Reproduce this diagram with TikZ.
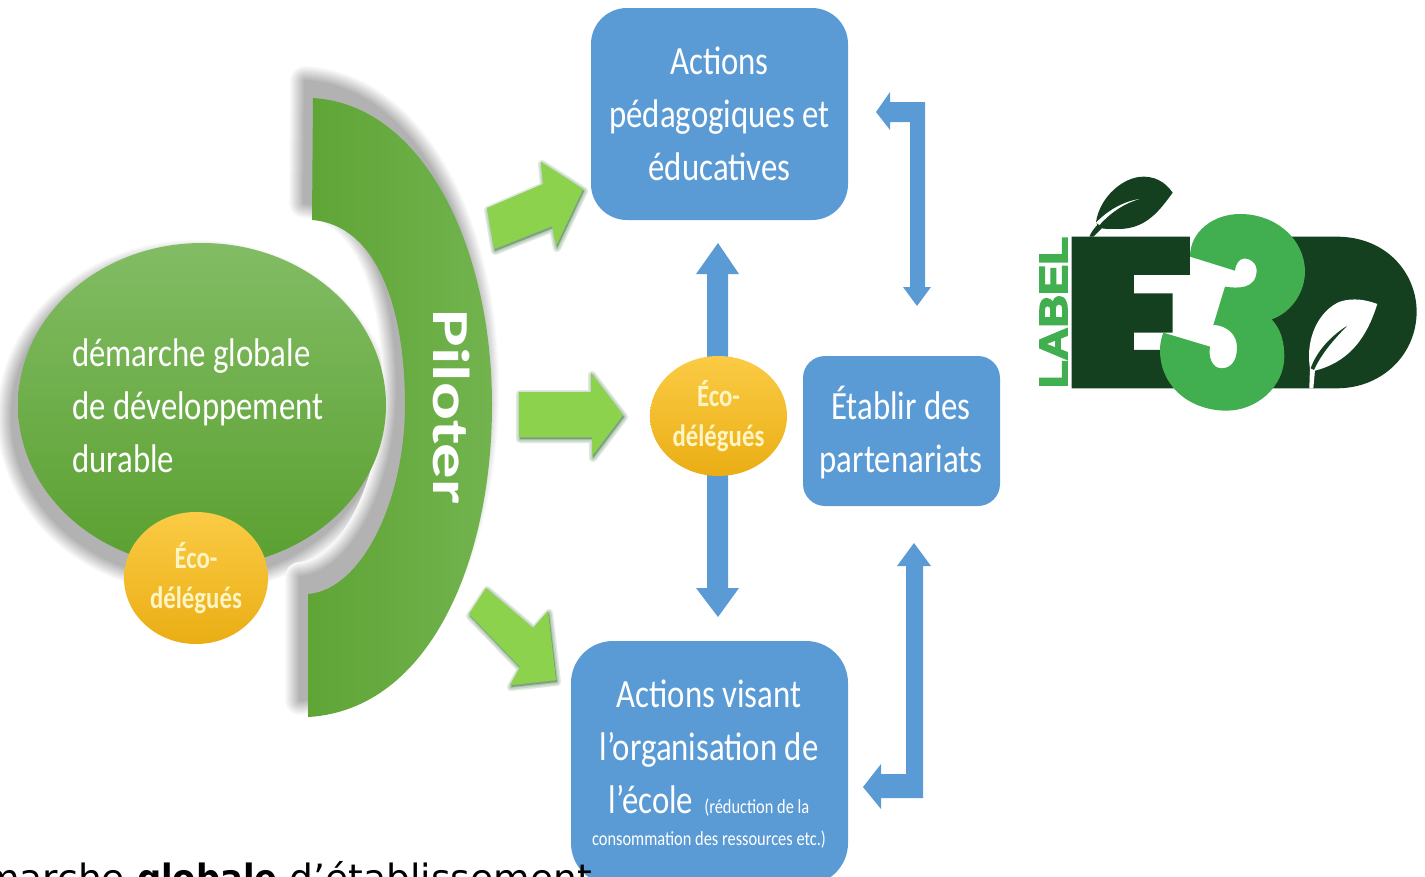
\documentclass[tikz,border=0pt]{standalone}
\usepackage{fontspec}
\usetikzlibrary{shapes.geometric}
\setmainfont{Carlito}
\newfontfamily\cond[FakeStretch=0.8]{Carlito}
\newfontfamily\condb[FakeStretch=0.82]{Carlito}
\newfontfamily\wide[FakeStretch=1.36]{Carlito}
\newfontfamily\dejavu[BoldFeatures={FakeStretch=0.9}]{DejaVu Sans}
\newfontfamily\labelfont[BoldFeatures={FakeBold=4}]{Liberation Sans}
\definecolor{boxblue}{HTML}{5B9BD5}
\definecolor{arrowgreen}{HTML}{8CD24C}
\definecolor{logodark}{HTML}{14401F}
\definecolor{logogreen}{HTML}{41AE4F}
\definecolor{cresL}{HTML}{5FA536}
\definecolor{cresR}{HTML}{72B34E}
\definecolor{ellT}{HTML}{82BC64}
\definecolor{ellM}{HTML}{69AA46}
\definecolor{ellB}{HTML}{5AA030}
\definecolor{eco1}{HTML}{FBCB45}
\definecolor{eco2}{HTML}{FFC000}
\definecolor{eco3}{HTML}{EAAE14}
\definecolor{ecotext}{HTML}{FFF4C4}
\tikzset{
  bluebox/.style={fill=boxblue,draw=none,inner sep=0pt,outer sep=0pt},
  bluearrow/.style={fill=boxblue,draw=none},
  greenarrow/.style={fill=arrowgreen,draw=none},
  ecoball/.style={ellipse,inner sep=0pt,top color=eco1,middle color=eco2,bottom color=eco3,draw=none,text=ecotext,align=center,
     font=\cond\bfseries\fontsize{31}{40}\selectfont},
  boxtext/.style={text=white,align=center,inner sep=0pt,font=\condb\fontsize{40}{53}\selectfont},
  crescentpath/.style={insert path={(313,98) .. controls (425,105) and (492,250) .. (492,405)
     .. controls (492,560) and (430,710) .. (308,717) -- (308,594)
     .. controls (362,590) and (405,500) .. (405,405)
     .. controls (405,310) and (378,225) .. (312,220) -- cycle}},
  arrowone/.style={insert path={(487,208) -- (543,184) -- (541,162) -- (583,189) -- (556,246) -- (552,226) -- (494,249) -- cycle}},
  arrowtwo/.style={insert path={(519,392) -- (591,392) -- (591,373) -- (623,415) -- (592,456) -- (592,437) -- (519,437) -- cycle}},
  arrowthree/.style={insert path={(486,588) -- (533,628) -- (548,611) -- (556,680) -- (510,685) -- (520,667) -- (469,614) -- cycle}},
}
\begin{document}
\begin{tikzpicture}[x=1pt,y=-1pt]
\useasboundingbox (0,0) rectangle (1425,876);
\clip (0,0) rectangle (1425,876);
% soft shadow of the ellipse, then of the crescent (opaque greys, lightest first)
\begin{scope}[shift={(-6,12)}]
\foreach \w/\g in {30/98,28/96,26/94,24/92,22/90,20/88,18/86,16/84,14/82,12/80,10/78,8/76,6/74,4/72,2/70}
  \path[fill=black!\the\numexpr100-\g\relax!white,draw=black!\the\numexpr100-\g\relax!white,line width=\w pt] (202,405) ellipse [x radius=184pt,y radius=162pt];
\end{scope}
\begin{scope}[shift={(-8,-17)}]
\foreach \w/\g in {30/98,28/96,26/94,24/92,22/90,20/88,18/86,16/84,14/82,12/80,10/78,8/76,6/74,4/72,2/70}
  \path[crescentpath,fill=black!\the\numexpr100-\g\relax!white,draw=black!\the\numexpr100-\g\relax!white,line width=\w pt,line join=round];
\end{scope}
% crescent and main ellipse
\path[crescentpath,left color=cresL,right color=cresR];
\node[ellipse,minimum width=368pt,minimum height=324pt,inner sep=0pt,draw=none,
      top color=ellT,middle color=ellM,bottom color=ellB] (demarche) at (202,405) {};
\node[text=white,align=left,anchor=west,inner sep=0pt,font=\condb\fontsize{40}{53}\selectfont] (demarchetxt) at (72,406)
  {démarche globale\\de développement\\durable};
\node[rotate=-90,text=white,inner sep=0pt,font=\wide\bfseries\fontsize{52}{54}\selectfont] (piloter) at (452,407) {Piloter};
\node[ecoball,minimum width=144pt,minimum height=132pt] (eco1node) at (196,578) {Éco-\\délégués};
% green arrows
\foreach \st in {arrowone,arrowtwo,arrowthree}{
  \begin{scope}[shift={(1,2)}]
  \foreach \w in {8,5,2}
    \path[\st,fill=black!70!green,draw=black!70!green,line width=\w pt,line join=round,opacity=.12];
  \end{scope}
  \path[\st,greenarrow];
}
% blue boxes
\node[bluebox,rounded corners=36pt,minimum width=257pt,minimum height=212pt] (b1) at (719.5,114) {};
\node[bluebox,rounded corners=22pt,minimum width=197pt,minimum height=150pt] (b2) at (901.5,431) {};
\node[bluebox,rounded corners=42pt,minimum width=277pt,minimum height=244pt] (b3) at (709.5,763) {};
% blue arrows
\path[bluearrow] (707,360) -- (707,274) -- (696,274) -- (718,243) -- (739,274) -- (728,274) -- (728,360) -- cycle;
\path[bluearrow] (707,470) -- (707,588) -- (696,588) -- (718,617) -- (739,588) -- (728,588) -- (728,470) -- cycle;
\path[bluearrow] (876,112) -- (890,92) -- (890,102) -- (925,102) -- (925,287) -- (931,287) -- (917,306) -- (903,287) -- (910,287) -- (910,122) -- (890,122) -- (890,130) -- cycle;
\path[bluearrow] (914,543) -- (931,566) -- (923,566) -- (923,798) -- (881,798) -- (881,809) -- (863,787) -- (881,764) -- (881,774) -- (906,774) -- (906,566) -- (897,566) -- cycle;
\node[ecoball,minimum width=137pt,minimum height=120pt] (eco2node) at (718.5,416) {Éco-\\délégués};
% box texts
\node[boxtext] (b1txt) at (719.5,114) {Actions\\pédagogiques et\\éducatives};
\node[boxtext] (b2txt) at (901,433) {Établir des\\partenariats};
\node[boxtext] (b3txt) at (709,764.5) {Actions visant\\l’organisation de\\l’école {\fontsize{20}{20}\selectfont\ (réduction de la}\\[-21pt]{\fontsize{20}{20}\selectfont consommation des ressources etc.)}};
% bottom text
\node[anchor=base east,inner sep=0pt,text=black,font=\dejavu\fontsize{37.6}{40}\selectfont] (bottomtxt) at (592,891) {démarche \textbf{globale} d’établissement};
% logo
\node[rotate=90,inner sep=0pt,text=logogreen] (labeltxt) at (1053.5,312.5) {\resizebox{151pt}{27pt}{\labelfont\bfseries LABEL}};
\begin{scope}[shift={(1020,160)},x=0.3333pt,y=-0.3333pt]
  % D
  \fill[logodark] (750,230) -- (950,230) .. controls (1100,230) and (1190,340) .. (1190,455)
     .. controls (1190,580) and (1090,685) .. (950,685) -- (750,685) -- cycle;
  % E
  \fill[logodark] (155,230) -- (510,230) -- (510,345) -- (342,345) -- (342,400) -- (458,400) -- (458,518) -- (342,518) -- (342,570) -- (520,570) -- (520,685) -- (155,685) -- cycle;
  % 3
  \fill[logogreen] (510,290) .. controls (510,215) and (580,162) .. (660,162)
     .. controls (770,162) and (855,240) .. (855,335)
     .. controls (855,400) and (810,460) .. (755,478)
     .. controls (785,510) and (793,550) .. (793,590)
     .. controls (793,680) and (710,752) .. (620,752)
     .. controls (510,752) and (420,680) .. (420,570)
     .. controls (420,550) and (425,530) .. (430,518) -- (570,560)
     .. controls (565,590) and (575,625) .. (605,625)
     .. controls (640,625) and (655,590) .. (650,550)
     .. controls (645,515) and (610,495) .. (580,495) -- (615,380)
     .. controls (650,385) and (710,390) .. (710,330)
     .. controls (710,300) and (670,285) .. (655,305)
     .. controls (648,315) and (645,325) .. (645,332) -- cycle;
  % top leaf
  \fill[logodark] (228,186) .. controls (240,110) and (310,50) .. (370,50)
     .. controls (420,50) and (445,80) .. (458,98)
     .. controls (420,150) and (380,205) .. (300,207)
     .. controls (275,207) and (255,207) .. (245,205) -- (220,230) -- (208,230) .. controls (215,215) and (222,205) .. (232,195) -- cycle;
  \fill[white] (228,188) .. controls (265,150) and (310,125) .. (358,117)
     .. controls (310,132) and (275,155) .. (238,195) -- cycle;
  % leaf in D
  \fill[white] (870,625) .. controls (855,530) and (900,450) .. (960,425)
     .. controls (1000,412) and (1040,420) .. (1072,432)
     .. controls (1050,500) and (1010,600) .. (885,632) -- (880,685) -- (868,685) -- cycle;
  \fill[logodark] (872,625) .. controls (890,575) and (930,530) .. (982,497)
     .. controls (940,540) and (905,580) .. (882,630) -- cycle;
\end{scope}
\end{tikzpicture}
\end{document}
